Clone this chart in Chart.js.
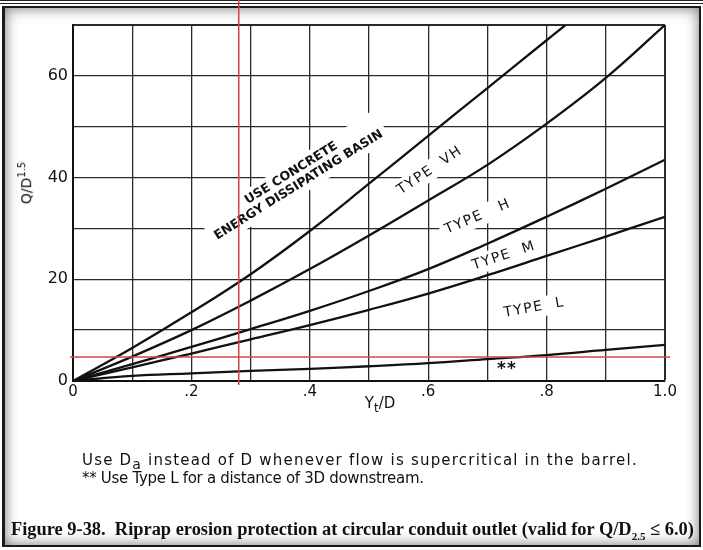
<!DOCTYPE html>
<html>
<head>
<meta charset="utf-8">
<script src="https://cdn.jsdelivr.net/npm/chart.js@4"></script>
<style>
  html, body { margin: 0; padding: 0; background: #fff; }
  body { width: 703px; height: 550px; position: relative; overflow: hidden; font-family: "DejaVu Sans", sans-serif; color: #111; }
  #topline { position: absolute; left: 0; top: 0; width: 703px; height: 2px; border-top: 1px solid #222; border-bottom: 1px solid #222; }
  #frame { position: absolute; left: 2px; top: 6px; width: 694px; height: 537px; border: 2px solid #1a1a1a; border-left-width: 3px; box-shadow: inset 0 0 14px rgba(0,0,0,0.55); background: #fff; }
  #chart { position: absolute; left: 0; top: 0; z-index: 1; }
  .txt { position: absolute; z-index: 2; white-space: pre; }
  #ytitle { left: 25px; top: 183px; font-size: 14px; transform: translate(-50%, -50%) rotate(-90deg); }
  #ytitle sup { font-size: 10px; }
  #xtitle { left: 380px; top: 404px; font-size: 15px; transform: translate(-50%, -50%); }
  #xtitle sub { font-size: 12px; }
  .note { left: 82px; font-size: 15px; }
  .note sub { font-size: 14px; }
  #caption { left: 11px; top: 519px; font-family: "Liberation Serif", serif; font-weight: bold; font-size: 18.4px; }
  #caption sub { font-size: 11px; }
</style>
</head>
<body>
<div id="topline"></div>
<div id="frame"></div>
<canvas id="chart" width="703" height="550"></canvas>
<div class="txt" id="ytitle">Q/D<sup>1.5</sup></div>
<div class="txt" id="xtitle">Y<sub>t</sub>/D</div>
<div class="txt note" style="top:451px; letter-spacing:1.2px">Use D<sub>a</sub> instead of D whenever flow is supercritical in the barrel.</div>
<div class="txt note" style="top:469px; letter-spacing:-0.3px">** Use Type L for a distance of 3D downstream.</div>
<div class="txt" id="caption">Figure 9-38.  Riprap erosion protection at circular conduit outlet (valid for Q/D<sub>2.5</sub> ≤ 6.0)</div>
<script>
// Yt/D values shared by most curves
const yt = [0, 0.1, 0.2, 0.3, 0.4, 0.5, 0.6, 0.7, 0.8, 0.9, 1.0];
// boundary of "use concrete energy dissipating basin" (leaves the chart at the top)
const concreteX = [0, 0.1, 0.2, 0.3, 0.4, 0.5, 0.6, 0.7, 0.8, 0.832];
const concreteY = [0, 6.5, 13.5, 21.0, 29.5, 38.8, 48.2, 57.6, 67.0, 70.0];
// Q/D^1.5 for the type boundaries
const vhToH = [0, 4.8, 10.0, 15.8, 22.0, 28.6, 35.5, 42.5, 50.6, 59.6, 70.0];
const hToM = [0, 3.3, 6.7, 10.2, 13.8, 17.7, 22.0, 27.0, 32.3, 37.8, 43.5];
const mToL = [0, 2.7, 5.4, 8.2, 11.0, 14.0, 17.2, 20.8, 24.6, 28.4, 32.3];
const lowerL = [0, 1.0, 1.5, 2.0, 2.4, 2.9, 3.5, 4.3, 5.1, 6.1, 7.1];

// axis ticks
const xTickValues = [0, 0.2, 0.4, 0.6, 0.8, 1.0];
const xTickLabels = ["0", ".2", ".4", ".6", ".8", "1.0"];
const yTickValues = [0, 20, 40, 60];
const yTickLabels = ["0", "20", "40", "60"];

// red reference lines (Yt/D and Q/D^1.5)
const refYt = 0.28;
const refQ = 4.7;

// text written on the chart
const regionText = [
  { lines: ["USE CONCRETE", "ENERGY DISSIPATING BASIN"], x: 0.375, y: 39.7, angle: -32, bold: true },
  { lines: ["TYPE  VH"], x: 0.603, y: 41.4, angle: -34 },
  { lines: ["TYPE   H"], x: 0.684, y: 32.3, angle: -23 },
  { lines: ["TYPE  M"], x: 0.728, y: 24.6, angle: -18 },
  { lines: ["TYPE  L"], x: 0.779, y: 14.4, angle: -10 },
  { lines: ["**"], x: 0.733, y: 2.2, angle: 0, big: true },
];

const pts = (xs, ys) => xs.map((x, i) => ({ x: x, y: ys[i] }));

const overlay = {
  id: "overlay",
  beforeDatasetsDraw(chart) {
    const ctx = chart.ctx;
    const sx = chart.scales.x, sy = chart.scales.y;
    for (const t of regionText) {
      ctx.save();
      ctx.translate(sx.getPixelForValue(t.x), sy.getPixelForValue(t.y));
      ctx.rotate(t.angle * Math.PI / 180);
      ctx.font = (t.bold ? "bold 12.5px" : t.big ? "bold 17px" : "14px") + ' "DejaVu Sans"';
      ctx.letterSpacing = t.bold ? "0px" : t.big ? "1px" : "1.5px";
      ctx.textAlign = "center";
      ctx.textBaseline = "middle";
      const lh = 14;
      const w = Math.max(...t.lines.map(l => ctx.measureText(l).width));
      const h = lh * t.lines.length;
      ctx.fillStyle = "#fff";
      ctx.fillRect(-w / 2 - 5, -h / 2 - 3, w + 10, h + 6);
      ctx.fillStyle = "#111";
      t.lines.forEach((l, i) => ctx.fillText(l, 0, -h / 2 + lh / 2 + i * lh));
      ctx.restore();
    }
  },
  afterDraw(chart) {
    const ctx = chart.ctx;
    const a = chart.chartArea;
    const px = chart.scales.x.getPixelForValue(refYt);
    const py = chart.scales.y.getPixelForValue(refQ);
    ctx.save();
    ctx.strokeStyle = "#d24545";
    ctx.lineWidth = 1.5;
    ctx.beginPath();
    ctx.moveTo(px, 0);
    ctx.lineTo(px, a.bottom + 4);
    ctx.moveTo(a.left - 3, py);
    ctx.lineTo(a.right + 5, py);
    ctx.stroke();
    ctx.restore();
  }
};

const curve = (data) => ({
  data: data,
  borderColor: "#111",
  borderWidth: 2.3,
  pointRadius: 0,
  tension: 0.4,
  fill: false,
});

new Chart(document.getElementById("chart"), {
  type: "line",
  data: {
    datasets: [
      curve(pts(concreteX, concreteY)),
      curve(pts(yt, vhToH)),
      curve(pts(yt, hToM)),
      curve(pts(yt, mToL)),
      curve(pts(yt, lowerL)),
    ]
  },
  options: {
    responsive: false,
    animation: false,
    layout: { padding: { left: 0, top: 25, right: 38, bottom: 0 } },
    plugins: {
      legend: { display: false },
      tooltip: { enabled: false },
    },
    scales: {
      x: {
        type: "linear",
        min: 0,
        max: 1,
        afterFit: (s) => { s.height = 169; },
        afterBuildTicks: (s) => { s.ticks = yt.map(v => ({ value: v })); },
        ticks: {
          autoSkip: false,
          maxRotation: 0,
          padding: 2,
          color: "#111",
          font: { family: "DejaVu Sans", size: 15 },
          callback: (v) => {
            const i = xTickValues.findIndex(t => Math.abs(t - v) < 1e-6);
            return i >= 0 ? xTickLabels[i] : "";
          }
        },
        grid: {
          drawTicks: false,
          color: "#2a2a2a",
          lineWidth: (c) => (c.tick && c.tick.value >= 0.999 ? 2 : 1.3),
        },
        border: { color: "#111", width: 2 },
      },
      y: {
        min: 0,
        max: 70,
        afterFit: (s) => { s.width = 73; },
        ticks: {
          stepSize: 10,
          autoSkip: false,
          padding: 5,
          color: "#111",
          font: { family: "DejaVu Sans", size: 16 },
          callback: (v) => {
            const i = yTickValues.indexOf(v);
            return i >= 0 ? yTickLabels[i] : "";
          }
        },
        grid: {
          drawTicks: false,
          color: "#2a2a2a",
          lineWidth: (c) => (c.tick && c.tick.value === 70 ? 2 : 1.3),
        },
        border: { color: "#111", width: 2 },
      }
    }
  },
  plugins: [overlay],
});
</script>
</body>
</html>
